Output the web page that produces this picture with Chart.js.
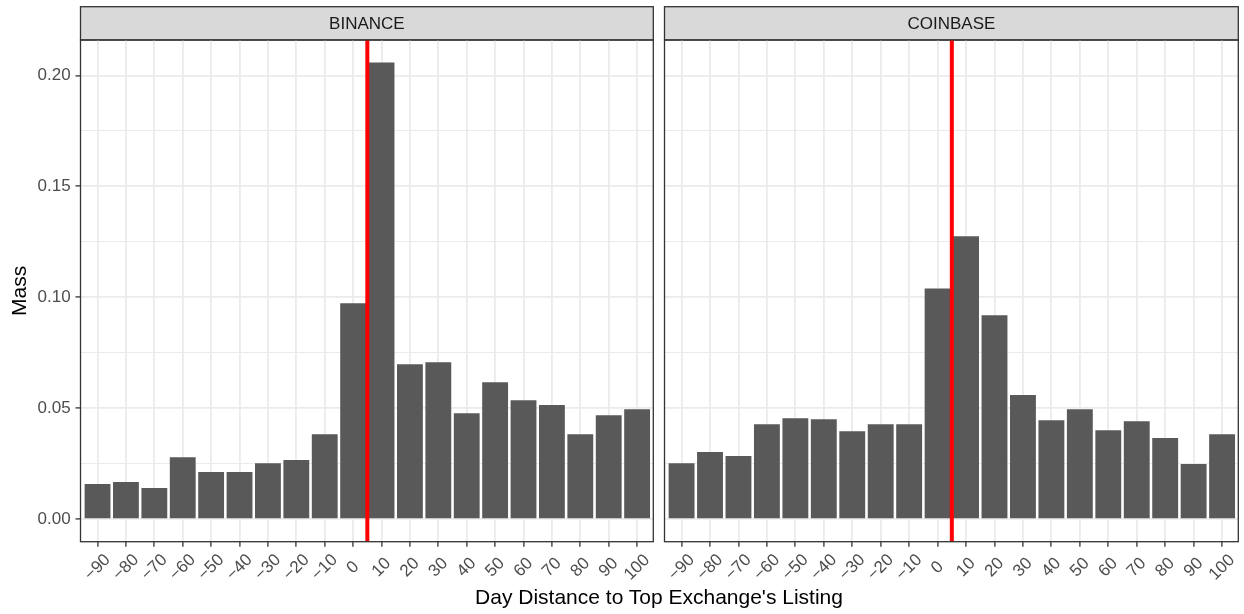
<!DOCTYPE html>
<html>
<head>
<meta charset="utf-8">
<script src="https://cdn.jsdelivr.net/npm/chart.js@4.4.1/dist/chart.umd.min.js"></script>
<style>
  html, body { margin: 0; padding: 0; background: #ffffff; }
  #wrap { position: relative; width: 1244px; height: 614px; overflow: hidden; background: #ffffff; }
  #wrap canvas { position: absolute; top: 0; }
  #xtitle {
    position: absolute; left: 659px; top: 586px; transform: translateX(-50%);
    white-space: nowrap; font-family: 'Liberation Sans', Arial, sans-serif;
    font-size: 21px; line-height: 21px; color: #000000;
  }
</style>
</head>
<body>
<div id="wrap">
  <canvas id="left" width="658" height="614" style="left:0px"></canvas>
  <canvas id="right" width="586" height="614" style="left:658px"></canvas>
  <div id="xtitle">Day Distance to Top Exchange's Listing</div>
</div>
<script>
// ---------------- data ----------------
const xBreaks = [-90, -80, -70, -60, -50, -40, -30, -20, -10, 0, 10, 20, 30, 40, 50, 60, 70, 80, 90, 100];
const xLabels = ['\u221290', '\u221280', '\u221270', '\u221260', '\u221250', '\u221240', '\u221230', '\u221220', '\u221210', '0', '10', '20', '30', '40', '50', '60', '70', '80', '90', '100'];
const binanceMass = [0.0158, 0.0167, 0.0140, 0.0279, 0.0212, 0.0212, 0.0252, 0.0266, 0.0383, 0.0973, 0.2059, 0.0698, 0.0707, 0.0477, 0.0617, 0.0536, 0.0514, 0.0383, 0.0468, 0.0495];
const coinbaseMass = [0.0252, 0.0302, 0.0284, 0.0428, 0.0455, 0.0450, 0.0396, 0.0428, 0.0428, 0.1040, 0.1275, 0.0919, 0.0559, 0.0446, 0.0495, 0.0401, 0.0441, 0.0365, 0.0248, 0.0383];
const panelTitles = ['BINANCE', 'COINBASE'];
const yBreaks = [0, 0.05, 0.10, 0.15, 0.20];
const yLabels = ['0.00', '0.05', '0.10', '0.15', '0.20'];
const yMinorBreaks = [0.025, 0.075, 0.125, 0.175];
const listingDay = 5;
const xLimits = [-96, 105.7];
const yLimits = [-0.0102, 0.2160];
const yTitle = 'Mass';

// ---------------- style ----------------
const FONT = "'Liberation Sans', Arial, sans-serif";
const GRID = '#EBEBEB';
const DARK = '#333333';

const panelDecor = {
  id: 'panelDecor',
  beforeDraw(chart, args, opts) {
    const ctx = chart.ctx, a = chart.chartArea;
    const stripTop = 6.7;
    ctx.save();
    ctx.fillStyle = '#D9D9D9';
    ctx.fillRect(a.left, stripTop, a.right - a.left, a.top - stripTop);
    ctx.strokeStyle = DARK;
    ctx.lineWidth = 1.3;
    ctx.strokeRect(a.left, stripTop, a.right - a.left, a.top - stripTop);
    ctx.fillStyle = '#1A1A1A';
    ctx.font = '17px ' + FONT;
    ctx.textAlign = 'center';
    ctx.textBaseline = 'middle';
    ctx.fillText(opts.title, (a.left + a.right) / 2, (stripTop + a.top) / 2 + 0.5);
    ctx.restore();
  },
  afterDatasetsDraw(chart, args, opts) {
    const ctx = chart.ctx, a = chart.chartArea;
    const xs = chart.scales.x;
    ctx.save();
    // listing reference line
    const lx = xs.getPixelForValue(opts.vline);
    ctx.strokeStyle = '#FF0000';
    ctx.lineWidth = 4;
    ctx.beginPath();
    ctx.moveTo(lx, a.top);
    ctx.lineTo(lx, a.bottom);
    ctx.stroke();
    // panel border
    ctx.strokeStyle = DARK;
    ctx.lineWidth = 1.3;
    ctx.strokeRect(a.left, a.top, a.right - a.left, a.bottom - a.top);
    // rotated x tick labels, centred on each tick
    ctx.fillStyle = '#4D4D4D';
    ctx.font = '17px ' + FONT;
    ctx.textAlign = 'center';
    ctx.textBaseline = 'middle';
    xs.ticks.forEach((t, i) => {
      const px = xs.getPixelForValue(t.value);
      ctx.save();
      ctx.translate(px, a.bottom + 25.8);
      ctx.rotate(-Math.PI / 4);
      ctx.fillText(xLabels[xBreaks.indexOf(t.value)], 0, 0);
      ctx.restore();
    });
    ctx.restore();
  }
};

function makePanel(canvasId, title, values, showY, pad) {
  const yTickValues = yBreaks.concat(yMinorBreaks).sort((p, q) => p - q);
  return new Chart(document.getElementById(canvasId), {
    type: 'bar',
    data: {
      datasets: [{
        data: values.map((v, i) => ({ x: xBreaks[i], y: v })),
        backgroundColor: '#595959',
        borderWidth: 0,
        barPercentage: 0.91,
        categoryPercentage: 1.0
      }]
    },
    options: {
      responsive: false,
      animation: false,
      events: [],
      layout: { padding: pad },
      plugins: {
        legend: { display: false },
        tooltip: { enabled: false },
        panelDecor: { title: title, vline: listingDay }
      },
      scales: {
        x: {
          type: 'linear',
          offset: false,
          min: xLimits[0],
          max: xLimits[1],
          afterBuildTicks: s => { s.ticks = xBreaks.map(v => ({ value: v })); },
          afterFit: s => { s.height = 614 - 541.7 - pad.bottom; },
          border: { display: false },
          grid: {
            offset: false,
            color: GRID,
            lineWidth: 1.8,
            drawTicks: true,
            tickLength: 5,
            tickColor: DARK,
            tickWidth: 1.3
          },
          ticks: { display: false, autoSkip: false }
        },
        y: {
          type: 'linear',
          min: yLimits[0],
          max: yLimits[1],
          afterBuildTicks: s => { s.ticks = yTickValues.map(v => ({ value: v })); },
          afterFit: s => { s.width = showY ? 80.5 : 0; },
          border: { display: false },
          grid: {
            color: GRID,
            lineWidth: c => (c.tick && yBreaks.includes(c.tick.value)) ? 1.8 : 1.0,
            drawTicks: showY,
            tickLength: 5,
            tickWidth: 1.3,
            tickColor: c => (c.tick && yBreaks.includes(c.tick.value)) ? DARK : 'rgba(0,0,0,0)'
          },
          ticks: {
            display: showY,
            autoSkip: false,
            padding: 4.8,
            color: '#4D4D4D',
            font: { family: FONT, size: 17 },
            callback: v => { const k = yBreaks.indexOf(v); return k >= 0 ? yLabels[k] : ''; }
          },
          title: {
            display: showY,
            text: yTitle,
            color: '#000000',
            font: { family: FONT, size: 21 },
            padding: { top: 8, bottom: 0 }
          }
        }
      }
    },
    plugins: [panelDecor]
  });
}

makePanel('left', panelTitles[0], binanceMass, true, { left: 0, right: 4.7, top: 40, bottom: 0 });
makePanel('right', panelTitles[1], coinbaseMass, false, { left: 6.5, right: 5.7, top: 40, bottom: 0 });
</script>
</body>
</html>
